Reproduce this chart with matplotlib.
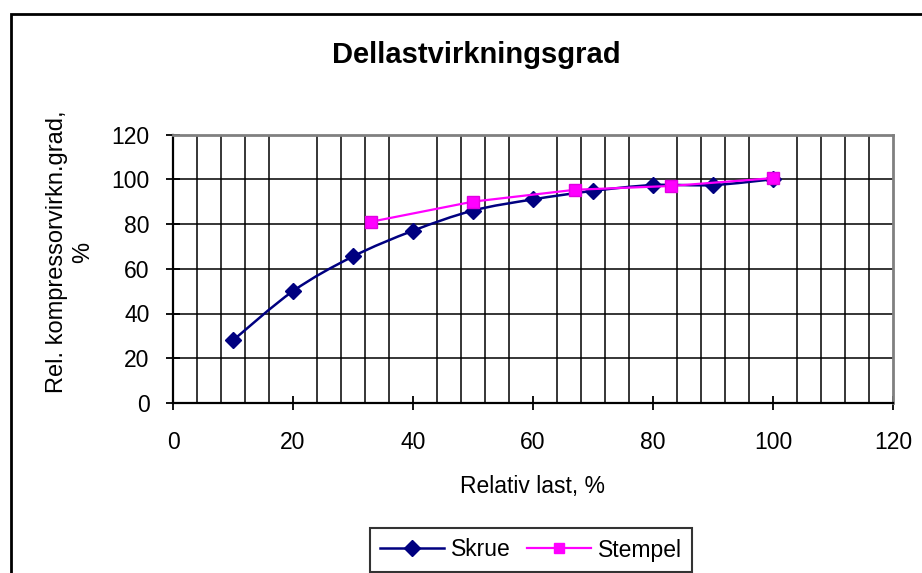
import numpy as np
import matplotlib.pyplot as plt
from matplotlib.path import Path
from matplotlib.patches import PathPatch, Rectangle
from matplotlib.lines import Line2D

plt.rcParams['font.family'] = ['Liberation Sans', 'DejaVu Sans']

# data
skrue_x = [10, 20, 30, 40, 50, 60, 70, 80, 90, 100]
skrue_y = [28, 50, 65.5, 77, 86, 91, 94.8, 97.4, 97.4, 100]
stempel_x = [33, 50, 67, 83, 100]
stempel_y = [81, 90, 95.3, 97, 100.5]

skrue_color = '#000080'
stempel_color = '#FF00FF'


def smooth_path(xs, ys):
    # bezier segments through the points (same kind of smoothing as a spreadsheet chart)
    pts = np.column_stack([xs, ys]).astype(float)
    n = len(pts)
    verts = [pts[0]]
    codes = [Path.MOVETO]
    for i in range(n - 1):
        p0 = pts[i - 1] if i > 0 else pts[i]
        p1 = pts[i]
        p2 = pts[i + 1]
        p3 = pts[i + 2] if i + 2 < n else pts[i + 1]
        c1 = p1 + (p2 - p0) / 6.0
        c2 = p2 - (p3 - p1) / 6.0
        verts += [c1, c2, p2]
        codes += [Path.CURVE4] * 3
    return Path(verts, codes)


fig = plt.figure(figsize=(9.22, 5.73), dpi=100)
ax = fig.add_axes([173 / 922, 1 - 403 / 573, 720 / 922, 268.5 / 573])

ax.set_xlim(0, 120)
ax.set_ylim(0, 120)
ax.set_xticks(range(0, 121, 20))
ax.set_yticks(range(0, 121, 20))
ax.set_xticks(range(0, 121, 4), minor=True)

# grid: vertical lines every 4, horizontal every 20
ax.grid(True, which='minor', axis='x', color='black', lw=1.1)
ax.grid(True, which='major', axis='y', color='black', lw=1.1)
ax.set_axisbelow(True)

for s in ['left', 'bottom']:
    ax.spines[s].set_color('black')
    ax.spines[s].set_linewidth(1.6)
for s in ['top', 'right']:
    ax.spines[s].set_color('#808080')
    ax.spines[s].set_linewidth(2)

ax.tick_params(which='major', direction='inout', length=10, width=1.3, labelsize=16.5)
ax.tick_params(which='minor', length=0)
ax.tick_params(axis='x', pad=15)
ax.tick_params(axis='y', pad=12)

# Skrue: smoothed line + diamonds
ax.add_patch(PathPatch(smooth_path(skrue_x, skrue_y), facecolor='none',
                       edgecolor=skrue_color, lw=1.8, zorder=3))
ax.plot(skrue_x, skrue_y, ls='none', marker='D', ms=8, color=skrue_color, zorder=4)

# Stempel: straight line + squares
ax.plot(stempel_x, stempel_y, color=stempel_color, lw=1.6, marker='s', ms=8,
        markerfacecolor=stempel_color, markeredgecolor='#E000E0', zorder=5)

fig.text(476 / 922, 1 - 55 / 573, 'Dellastvirkningsgrad', ha='center', va='center',
         fontsize=21, fontweight='bold')
fig.text(533 / 922, 1 - 486 / 573, 'Relativ last, %', ha='center', va='center', fontsize=16.5)
fig.text(70 / 922, 1 - 252 / 573, 'Rel. kompressorvirkn.grad,\n%', ha='center', va='center',
         rotation=90, fontsize=17, linespacing=1.2)

handles = [
    Line2D([], [], color=skrue_color, lw=1.8, marker='D', ms=8),
    Line2D([], [], color=stempel_color, lw=1.6, marker='s', ms=7),
]
leg = fig.legend(handles, ['Skrue', 'Stempel'], loc='center', ncol=2,
                 bbox_to_anchor=(531 / 922, 1 - 550 / 573), fontsize=16.5,
                 frameon=True, fancybox=False, edgecolor='black', handlelength=2.8,
                 handletextpad=0.3, columnspacing=0.7, borderpad=0.45, borderaxespad=0)
leg.get_frame().set_linewidth(1.5)

# outer chart border (runs off the right and bottom edges)
fig.add_artist(Rectangle((11 / 922, -0.2), 1.2, 1.2 - 14 / 573, fill=False,
                         lw=2, edgecolor='black', transform=fig.transFigure, clip_on=False))

fig.savefig('out.png', dpi=100)
